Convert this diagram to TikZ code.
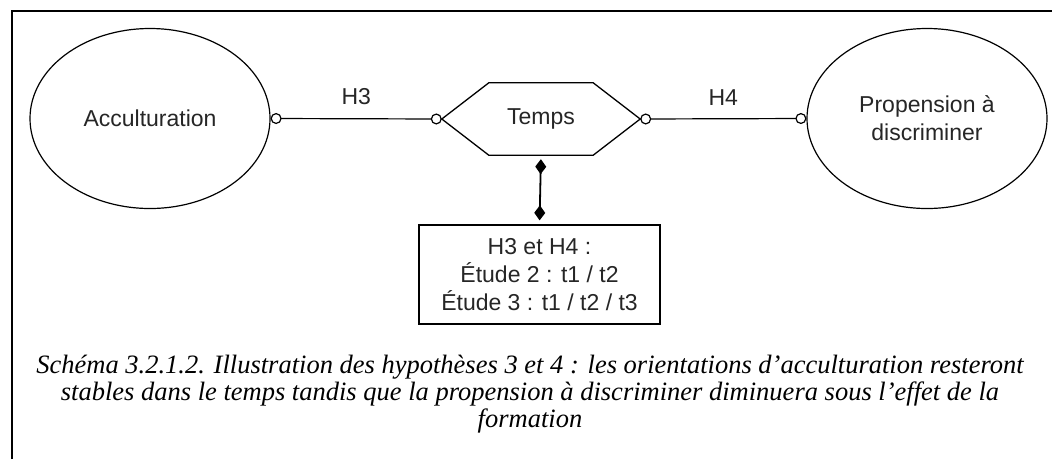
\documentclass[tikz,border=0pt]{standalone}
\usepackage{fontspec}
\setmainfont{Liberation Sans}
\newfontfamily\capfont{Liberation Serif}
\usetikzlibrary{arrows.meta,calc,shapes.geometric}
\begin{document}
\begin{tikzpicture}[x=1pt,y=-1pt,
  every node/.style={font=\fontsize{23}{28}\selectfont, text=black!85},
  ellnode/.style={ellipse, draw, line width=1.2pt, minimum width=240pt, minimum height=180pt, inner sep=0pt, align=center},
  hexnode/.style={rectangle, minimum width=198pt, minimum height=72pt, inner sep=0pt},
  hexline/.style={draw, line width=1.3pt},
  link/.style={line width=1.2pt, {Circle[open,length=11pt,width=11pt]}-{Circle[open,length=11pt,width=11pt]}},
  dlink/.style={line width=1.8pt, {Diamond[length=15pt,width=11pt]}-{Diamond[length=15pt,width=11pt]}, shorten <=4pt, shorten >=4pt},
  boxnode/.style={rectangle, draw, line width=1.3pt, minimum width=241pt, minimum height=99pt, inner sep=0pt, align=center},
  hlabel/.style={midway, above, inner sep=0pt, yshift=13pt},
  caption/.style={align=center, text=black, font=\capfont\itshape\fontsize{26.5}{27}\selectfont}
]
\useasboundingbox (0,0) rectangle (1052,459);
\fill[white] (0,0) rectangle (1052,459);
\coordinate (fa) at (12,459);
\coordinate (fb) at (12,11);
\coordinate (fc) at (1052,11);
\draw[line width=2.6pt] (fa) -- (fb) -- (fc);

\node[ellnode] (acc) at (150,118.5) {Acculturation};
\node[ellnode] (prop) at (927,118.5) {Propension à\\discriminer};
\node[hexnode] (temps) at (541,119) {Temps};
\draw[hexline] (temps.west) -- ($(temps.north west)+(47,0)$) -- ($(temps.north east)+(-47,0)$) -- (temps.east) -- ($(temps.south east)+(-47,0)$) -- ($(temps.south west)+(47,0)$) -- cycle;
\node[boxnode] (box) at (539.5,274.5) {H3 et H4 :\\Étude 2 : t1 / t2\\Étude 3 : t1 / t2 / t3};

\draw[link] (acc.east) -- node[hlabel] {H3} (temps.west);
\draw[link] (temps.east) -- node[hlabel] {H4} (prop.west);
\draw[dlink] (temps.south) -- (box.north);

\node[caption] (cap) at (530,394) {Schéma 3.2.1.2. Illustration des hypothèses 3 et 4 : les orientations d’acculturation resteront\\stables dans le temps tandis que la propension à discriminer diminuera sous l’effet de la\\formation};
\end{tikzpicture}
\end{document}
